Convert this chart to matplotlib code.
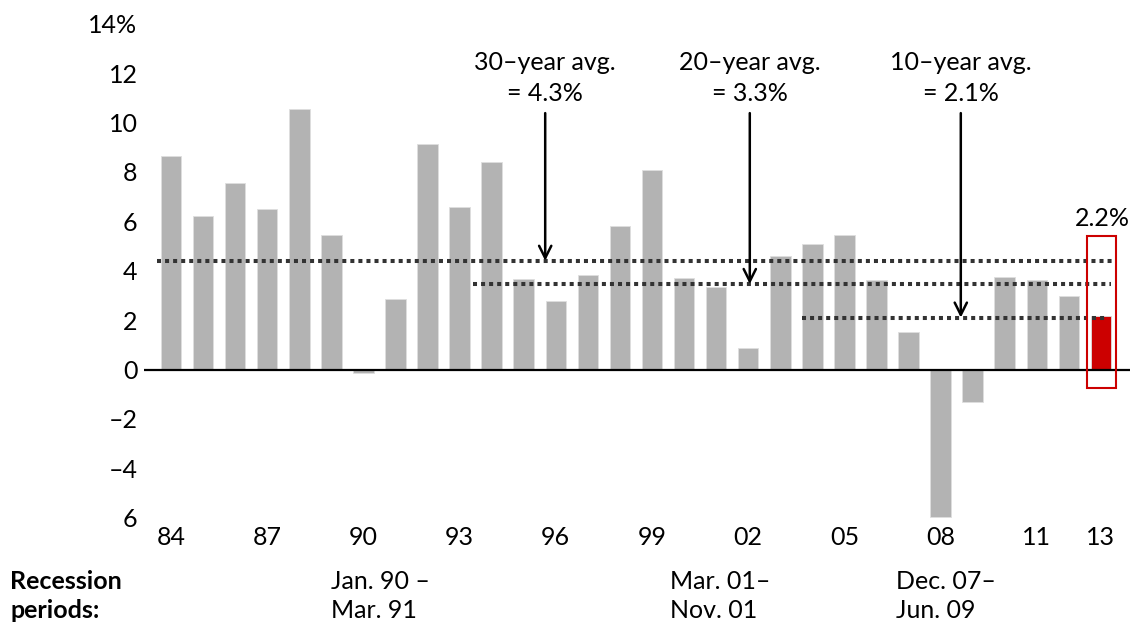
import matplotlib
matplotlib.use("Agg")
import matplotlib.pyplot as plt
from matplotlib.patches import Rectangle

plt.rcParams['font.family'] = ['Lato', 'DejaVu Sans']

years = ["84", "85", "86", "87", "88", "89", "90", "91", "92", "93",
         "94", "95", "96", "97", "98", "99", "00", "01", "02", "03",
         "04", "05", "06", "07", "08", "09", "10", "11", "12", "13"]
values = [8.63, 6.22, 7.55, 6.5, 10.56, 5.46, -0.16, 2.87, 9.12, 6.56,
          8.4, 3.67, 2.79, 3.82, 5.79, 8.08, 3.7, 3.34, 0.89, 4.6,
          5.08, 5.45, 3.62, 1.53, -5.97, -1.3, 3.75, 3.63, 2.97, 2.16]
tick_years = ["84", "87", "90", "93", "96", "99", "02", "05", "08", "11", "13"]
ytick_vals = [-6, -4, -2, 0, 2, 4, 6, 8, 10, 12, 14]
ytick_labels = ["6", "\u20134", "\u20132", "0", "2", "4", "6", "8", "10", "12", "14%"]

avg_labels = ["30\u2013year avg.\n= 4.3%", "20\u2013year avg.\n= 3.3%", "10\u2013year avg.\n= 2.1%"]
avg_levels = [4.4, 3.46, 2.1]          # drawn positions of dotted lines
avg_start = [-0.44, 9.43, 19.68]
avg_end = [29.45, 29.32, 29.17]
arrow_x = [11.67, 18.05, 24.63]
last_label = "2.2%"

recession_labels = [("Jan. 90 \u2013\nMar. 91", 331), ("Mar. 01\u2013\nNov. 01", 670), ("Dec. 07\u2013\nJun. 09", 896)]

FS = 18
W, H = 1140, 624
fig = plt.figure(figsize=(W / 100, H / 100), dpi=100)
left_px, right_px = 138.9, 1133.0
top_px, bot_px = 23.7, 517.7
ax = fig.add_axes([left_px / W, 1 - bot_px / H, (right_px - left_px) / W, (bot_px - top_px) / H])
ax.set_xlim(-1, 30)
ax.set_ylim(-6, 14)
for s in ax.spines.values():
    s.set_visible(False)

x = list(range(len(years)))
colors = ["#b3b3b3"] * (len(years) - 1) + ["#cc0000"]
ax.bar(x, values, width=0.64, color=colors, edgecolor="#dedede", linewidth=0.6, zorder=2)

ax.hlines(0, -0.84, 29.9, color="black", lw=1.6, zorder=3)

for lvl, xs, xe in zip(avg_levels, avg_start, avg_end):
    ax.plot([xs, xe], [lvl, lvl], color="#333333", lw=2.9, linestyle=(0, (1, 1)),
            dash_capstyle="butt", solid_capstyle="butt", zorder=4)

for lbl, lvl, ax_x in zip(avg_labels, avg_levels, arrow_x):
    ax.annotate("", xy=(ax_x, lvl), xytext=(ax_x, 10.38),
                arrowprops=dict(arrowstyle="->", lw=1.8, color="black",
                                mutation_scale=22, shrinkA=0, shrinkB=0), zorder=5)
    ax.text(ax_x, 11.8, lbl, ha="center", va="center", fontsize=FS,
            linespacing=1.42, color="black")

ax.add_patch(Rectangle((28.55, -0.73), 0.92, 6.13, fill=False, edgecolor="#cc0000", lw=1.5, zorder=5))
ax.text(29.06, 6.1, last_label, ha="center", va="center", fontsize=FS)

ax.set_yticks(ytick_vals)
ax.set_yticklabels(ytick_labels, fontsize=FS)
ax.set_xticks([years.index(t) for t in tick_years])
ax.set_xticklabels(tick_years, fontsize=FS)
ax.tick_params(axis="both", length=0)
ax.tick_params(axis="y", pad=1)
ax.tick_params(axis="x", pad=6)

fig.text(10 / W, 1 - 596 / H, "Recession\nperiods:", ha="left", va="center",
         fontsize=FS, fontweight="bold", linespacing=1.35)
for txt, px in recession_labels:
    fig.text(px / W, 1 - 596 / H, txt, ha="left", va="center", fontsize=FS, linespacing=1.35)

fig.savefig("out.png", dpi=100)
